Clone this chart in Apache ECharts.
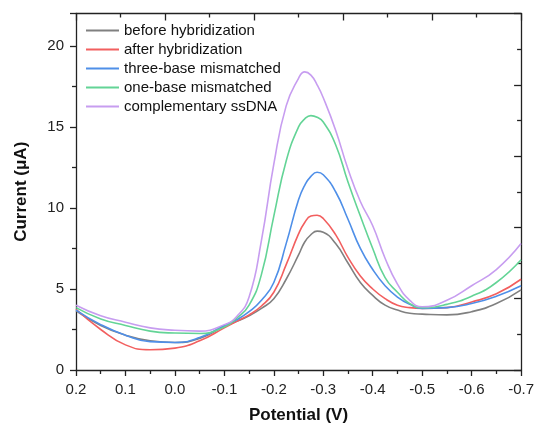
<!DOCTYPE html>
<html>
<head>
<meta charset="utf-8">
<script src="https://cdn.jsdelivr.net/npm/echarts@6/dist/echarts.min.js"></script>
<style>html,body{margin:0;padding:0;background:#fff}#c{width:537px;height:429px}</style>
</head>
<body>
<div id="c"></div>
<script>
const potential = [0.2, 0.15, 0.1, 0.05, 0.0, -0.05, -0.1, -0.125, -0.15, -0.175, -0.2, -0.225, -0.25, -0.2625, -0.275, -0.2875, -0.3, -0.325, -0.35, -0.375, -0.4, -0.425, -0.45, -0.475, -0.5, -0.55, -0.6, -0.65, -0.7];
const seriesNames = ['before hybridization', 'after hybridization', 'three-base mismatched', 'one-base mismatched', 'complementary ssDNA'];
const before = [3.65, 2.75, 2.15, 1.8, 1.7, 1.95, 2.7, 3.0, 3.35, 3.8, 4.4, 5.6, 7.1, 7.9, 8.35, 8.57, 8.5, 7.8, 6.6, 5.4, 4.6, 4.0, 3.7, 3.5, 3.45, 3.4, 3.6, 4.1, 4.95];
const after = [3.75, 2.5, 1.55, 1.25, 1.35, 1.8, 2.6, 3.0, 3.4, 3.95, 4.8, 6.5, 8.4, 9.1, 9.5, 9.55, 9.35, 8.35, 6.95, 5.8, 5.0, 4.4, 4.0, 3.85, 3.8, 3.85, 4.2, 4.7, 5.6];
const threeBase = [3.7, 2.8, 2.15, 1.75, 1.7, 2.0, 2.75, 3.1, 3.6, 4.3, 5.4, 7.8, 10.5, 11.4, 11.95, 12.2, 12.05, 11.0, 9.3, 7.5, 6.2, 5.2, 4.5, 4.05, 3.8, 3.85, 4.1, 4.55, 5.2];
const oneBase = [3.85, 3.15, 2.75, 2.4, 2.28, 2.25, 2.65, 3.2, 4.0, 5.9, 9.5, 12.9, 15.0, 15.5, 15.7, 15.6, 15.3, 13.9, 11.6, 9.5, 7.5, 5.7, 4.8, 4.1, 3.85, 4.05, 4.55, 5.4, 6.8];
const complementary = [4.0, 3.35, 2.95, 2.6, 2.45, 2.4, 2.8, 3.3, 4.5, 8.0, 12.7, 16.3, 18.0, 18.4, 18.2, 17.6, 16.8, 14.8, 12.4, 10.4, 8.9, 6.9, 5.3, 4.3, 3.9, 4.3, 5.2, 6.2, 7.8];
const colors = ['#808080', '#f25f5f', '#4f8fe8', '#63d496', '#c79df0'];
const allData = [before, after, threeBase, oneBase, complementary];

const font = 'Liberation Sans, Arial, sans-serif';
const axisColor = '#222';
const chart = echarts.init(document.getElementById('c'));
chart.setOption({
  animation: false,
  color: colors,
  grid: {left: 76, right: 13, top: 13.5, bottom: 57},
  legend: {
    orient: 'vertical', left: 80, top: 18,
    itemWidth: 33, itemHeight: 14, itemGap: 4,
    itemStyle: {opacity: 0},
    textStyle: {fontFamily: font, fontSize: 15, color: '#111'},
    data: seriesNames
  },
  xAxis: [{
    type: 'value', inverse: true, min: -0.7, max: 0.2, interval: 0.1,
    name: 'Potential (V)', nameLocation: 'middle', nameGap: 37,
    nameTextStyle: {fontFamily: font, fontSize: 17, fontWeight: 'bold', color: '#111'},
    axisLine: {show: true, onZero: false, lineStyle: {color: axisColor, width: 1.3}},
    axisTick: {show: true, inside: false, length: 6, lineStyle: {color: axisColor, width: 1.3}},
    minorTick: {show: true, splitNumber: 2, length: 4, lineStyle: {color: axisColor, width: 1.3}},
    axisLabel: {fontFamily: font, fontSize: 15, color: '#222', margin: 12, formatter: v => v.toFixed(1)},
    splitLine: {show: false}
  }, {
    type: 'value', position: 'top', min: 0, max: 5, interval: 1,
    axisLine: {show: true, onZero: false, lineStyle: {color: axisColor, width: 1.3}},
    axisTick: {show: true, inside: true, length: 7, lineStyle: {color: axisColor, width: 1.3}},
    minorTick: {show: true, splitNumber: 2, length: 4, lineStyle: {color: axisColor, width: 1.3}},
    axisLabel: {show: false}, splitLine: {show: false}
  }],
  yAxis: [{
    type: 'value', min: 0, max: 22, interval: 5,
    name: 'Current (\u03bcA)', nameLocation: 'middle', nameGap: 46,
    nameTextStyle: {fontFamily: font, fontSize: 17, fontWeight: 'bold', color: '#111'},
    axisLine: {show: true, onZero: false, lineStyle: {color: axisColor, width: 1.3}},
    axisTick: {show: true, inside: false, length: 6, lineStyle: {color: axisColor, width: 1.3}},
    minorTick: {show: true, splitNumber: 2, length: 4, lineStyle: {color: axisColor, width: 1.3}},
    axisLabel: {fontFamily: font, fontSize: 15, color: '#222', margin: 12, showMaxLabel: false},
    splitLine: {show: false}
  }, {
    type: 'value', position: 'right', min: 0, max: 5, interval: 1,
    axisLine: {show: true, onZero: false, lineStyle: {color: axisColor, width: 1.3}},
    axisTick: {show: true, inside: true, length: 7, lineStyle: {color: axisColor, width: 1.3}},
    minorTick: {show: true, splitNumber: 2, length: 4, lineStyle: {color: axisColor, width: 1.3}},
    axisLabel: {show: false}, splitLine: {show: false}
  }],
  series: seriesNames.map((n, i) => ({
    name: n, type: 'line', xAxisIndex: 0, yAxisIndex: 0,
    symbol: 'none', smooth: 0.5,
    lineStyle: {width: 1.6, color: colors[i]},
    data: potential.map((x, k) => [x, allData[i][k]])
  }))
});
</script>
</body>
</html>
